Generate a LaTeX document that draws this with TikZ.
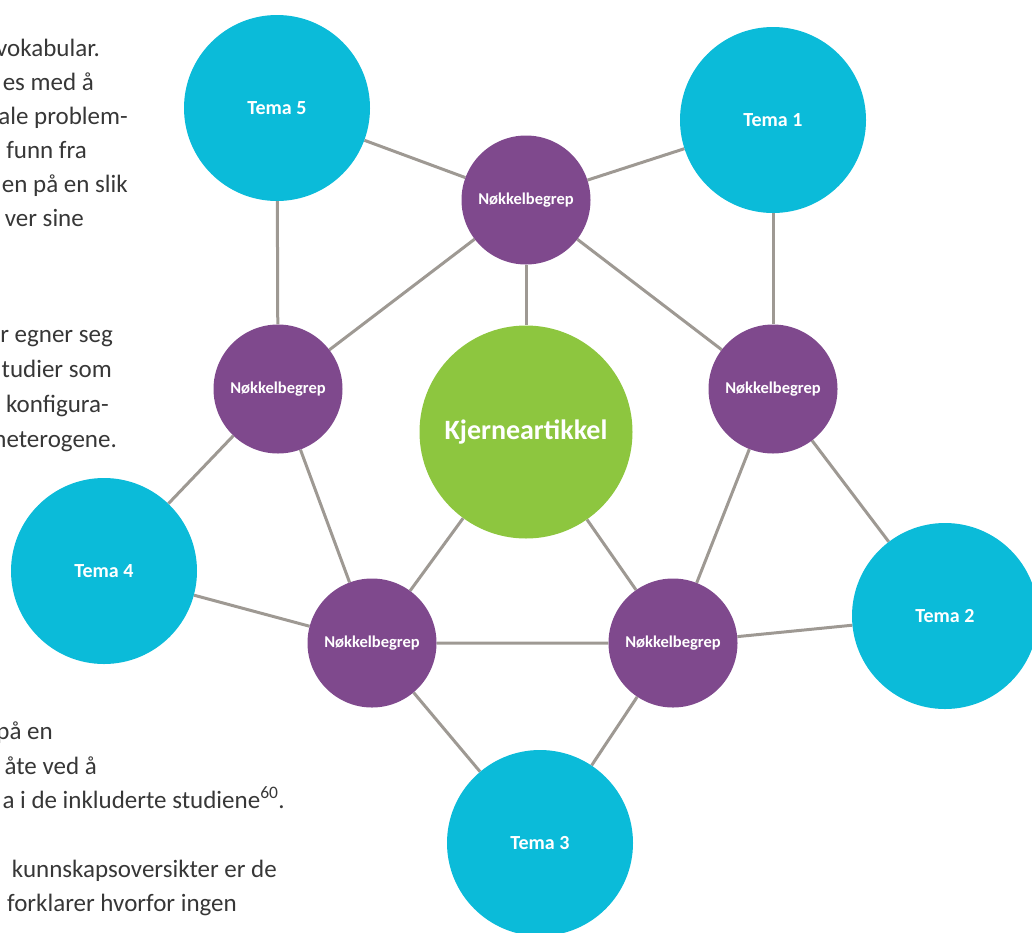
\documentclass[tikz,border=0pt]{standalone}
\usepackage{fontspec}
\setmainfont{Carlito}
\usetikzlibrary{backgrounds}
\definecolor{temablue}{RGB}{11,187,217}
\definecolor{begrepviolet}{RGB}{127,73,141}
\definecolor{kjernegreen}{RGB}{141,198,63}
\definecolor{linkgray}{RGB}{158,153,147}
\definecolor{bodytext}{RGB}{55,55,55}
\begin{document}
\begin{tikzpicture}[x=1pt, y=-1pt,
    tema/.style={circle, fill=temablue, minimum size=186pt, inner sep=0pt, text=white, font=\fontsize{20}{24}\selectfont\bfseries},
    begrep/.style={circle, fill=begrepviolet, minimum size=129pt, inner sep=0pt, text=white, font=\fontsize{16.5}{20}\selectfont\bfseries},
    kjerne/.style={circle, fill=kjernegreen, minimum size=213pt, inner sep=0pt, text=white, font=\fontsize{28}{32}\selectfont\bfseries},
    link/.style={draw=linkgray, line width=3pt},
    brodtekst/.style={anchor=base east, inner sep=0pt, text=bodytext, font=\fontsize{25}{35}\selectfont}]
    \useasboundingbox (0,0) rectangle (1032,932);
    \clip (0,0) rectangle (1032,932);
    \node[brodtekst] (l1) at (100,56) {vokabular.};
    \node[brodtekst] (l2) at (94,90) {es med å};
    \node[brodtekst] (l3) at (128,124) {ale problem-};
    \node[brodtekst] (l4) at (87,158) {funn fra};
    \node[brodtekst] (l5) at (128,192) {en på en slik};
    \node[brodtekst] (l6) at (84,226) {ver sine};
    \node[brodtekst] (m1) at (113,342) {r egner seg};
    \node[brodtekst] (m2) at (112,377) {tudier som};
    \node[brodtekst] (m3) at (109,412) {konfigura-};
    \node[brodtekst] (m4) at (117,447) {heterogene.};
    \node[brodtekst] (b1) at (53,739) {på en};
    \node[brodtekst] (b2) at (97,774) {åte ved å};
    \node[brodtekst] (b3) at (285,808) {a i de inkluderte studiene\textsuperscript{60}.};
    \node[brodtekst] (b4) at (277,877) {kunnskapsoversikter er de};
    \node[brodtekst] (b5) at (237,911) {forklarer hvorfor ingen};
    \node[kjerne] (kjerne) at (526,432) {Kjerneartikkel};
    \node[begrep] (btop) at (526,200) {Nøkkelbegrep};
    \node[begrep] (bleft) at (278,389) {Nøkkelbegrep};
    \node[begrep] (bright) at (773,389) {Nøkkelbegrep};
    \node[begrep] (bbl) at (372,643) {Nøkkelbegrep};
    \node[begrep] (bbr) at (673,643) {Nøkkelbegrep};
    \node[tema] (tema1) at (773,120) {Tema 1};
    \node[tema] (tema2) at (945,616) {Tema 2};
    \node[tema] (tema3) at (540,843) {Tema 3};
    \node[tema] (tema4) at (104,571) {Tema 4};
    \node[tema] (tema5) at (277,108) {Tema 5};
    \begin{scope}[on background layer]
        \draw[link] (tema5) -- (btop) -- (tema1);
        \draw[link] (tema5) -- (bleft);
        \draw[link] (tema1) -- (bright);
        \draw[link] (btop) -- (kjerne);
        \draw[link] (btop) -- (bleft);
        \draw[link] (btop) -- (bright);
        \draw[link] (bleft) -- (tema4);
        \draw[link] (bleft) -- (bbl);
        \draw[link] (bright) -- (tema2);
        \draw[link] (bright) -- (bbr);
        \draw[link] (kjerne) -- (bbl);
        \draw[link] (kjerne) -- (bbr);
        \draw[link] (tema4) -- (bbl) -- (bbr) -- (tema2);
        \draw[link] (bbl) -- (tema3) -- (bbr);
    \end{scope}
\end{tikzpicture}
\end{document}
